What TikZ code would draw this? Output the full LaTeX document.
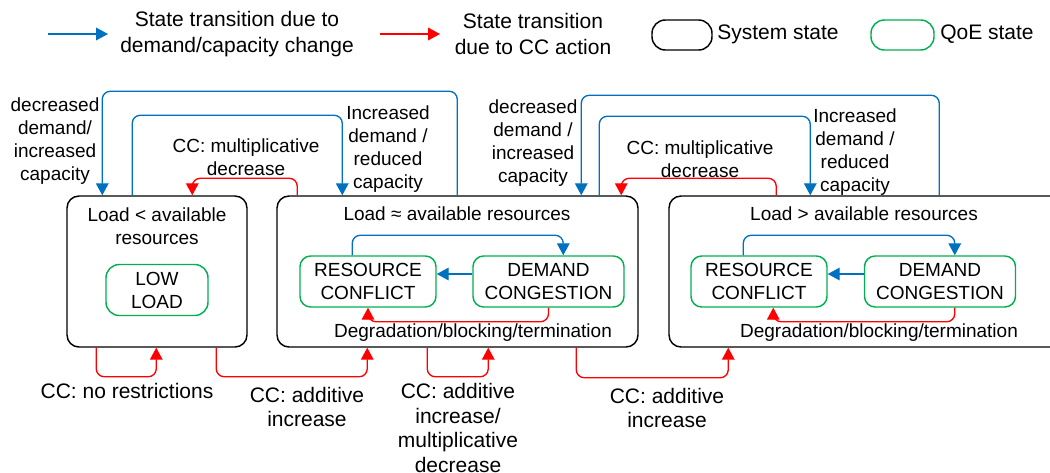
\documentclass[tikz,border=0pt]{standalone}
\usepackage{fontspec}
\setmainfont{Liberation Sans}
\usetikzlibrary{arrows.meta,calc}
\definecolor{cblue}{RGB}{0,112,192}
\definecolor{cred}{RGB}{255,0,0}
\definecolor{cgreen}{RGB}{0,176,80}
\newcommand\pxu{0.75pt}
\newcommand\fsA{\fontsize{14.25pt}{17.25pt}\selectfont}
\newcommand\fsB{\fontsize{15.75pt}{18.6pt}\selectfont}
\newcommand\fsL{\fontsize{15.75pt}{19.5pt}\selectfont}
\begin{document}
\begin{tikzpicture}[x=0.75pt,y=-0.75pt,
  sysbox/.style={draw=black, line width=1.1pt, rounded corners=9pt, inner sep=0pt},
  qoebox/.style={draw=cgreen, line width=1.1pt, rounded corners=8pt, align=center, font=\fsA, inner sep=0pt},
  lbl/.style={align=center, inner sep=0pt, font=\fsA},
  blbl/.style={align=center, inner sep=0pt, font=\fsB},
  leg/.style={align=center, inner sep=0pt, font=\fsL},
  tip/.style={-{Triangle[length=9pt,width=9.5pt]}},
  barr/.style={draw=cblue, line width=1pt, rounded corners=6pt, tip},
  rarr/.style={draw=cred, line width=1pt, rounded corners=6pt, tip}]
\clip (0,0) rectangle (1050,472);

% ---------- legend ----------
\coordinate (lb1) at (48,34);
\coordinate (lb2) at (108,34);
\draw[barr] (lb1) -- (lb2);
\node[leg] (lt1) at (237,34) {State transition due to\\demand/capacity change};
\coordinate (lr1) at (380,34);
\coordinate (lr2) at (440,34);
\draw[rarr] (lr1) -- (lr2);
\node[leg] (lt2) at (533,34) {State transition\\due to CC action};
\node[sysbox, rounded corners=10pt, minimum width=60*\pxu, minimum height=30*\pxu] (lsys) at (682,35) {};
\node[leg, anchor=west] (lsyst) at (717,34) {System state};
\node[qoebox, rounded corners=10pt, minimum width=63*\pxu, minimum height=30*\pxu] (lqoe) at (902.5,35) {};
\node[leg, anchor=west] (lqoet) at (940,34) {QoE state};

% ---------- system states ----------
\node[sysbox, minimum width=180*\pxu, minimum height=151*\pxu] (b1) at (157,271.5) {};
\node[sysbox, minimum width=361*\pxu, minimum height=151*\pxu] (b2) at (457.5,271.5) {};
\node[sysbox, minimum width=431*\pxu, minimum height=151*\pxu] (b3) at (884.5,271.5) {};

\node[lbl] (h1) at (157,226) {Load < available\\resources};
\node[lbl] (h2) at (457,214) {Load ≈ available resources};
\node[lbl] (h3) at (864,214) {Load > available resources};

% ---------- QoE states ----------
\node[qoebox, rounded corners=10pt, minimum width=102*\pxu, minimum height=51*\pxu] (low) at (157,290) {LOW\\LOAD};
\node[qoebox, minimum width=136*\pxu, minimum height=51*\pxu] (rc2) at (368,281.5) {RESOURCE\\CONFLICT};
\node[qoebox, minimum width=151*\pxu, minimum height=51*\pxu] (dc2) at (548.5,281.5) {DEMAND\\CONGESTION};
\node[qoebox, minimum width=136*\pxu, minimum height=51*\pxu] (rc3) at (759,281.5) {RESOURCE\\CONFLICT};
\node[qoebox, minimum width=151*\pxu, minimum height=51*\pxu] (dc3) at (940,281.5) {DEMAND\\CONGESTION};

\node[lbl] (dg2) at (473,333) {Degradation/blocking/termination};
\node[lbl] (dg3) at (879,333) {Degradation/blocking/termination};

% inner transitions
\draw[barr] ([xshift=53*\pxu]rc2.north west) -- ++(0,-20) -| ([xshift=91*\pxu]dc2.north west);
\draw[barr] ([yshift=7.5*\pxu]dc2.west) -- ([yshift=7.5*\pxu]rc2.east);
\draw[rarr] (dc2.south) -- ++(0,14) -| (rc2.south);
\draw[barr] ([xshift=53*\pxu]rc3.north west) -- ++(0,-20) -| ([xshift=91*\pxu]dc3.north west);
\draw[barr] ([yshift=7.5*\pxu]dc3.west) -- ([yshift=7.5*\pxu]rc3.east);
\draw[rarr] ([xshift=91*\pxu]dc3.south west) -- ++(0,14) -| ([xshift=83*\pxu]rc3.south west);

% ---------- top transitions ----------
\draw[barr] ([xshift=181*\pxu]b2.north west) -- ++(0,-104) -| ([xshift=36*\pxu]b1.north west);
\draw[barr] ([xshift=66*\pxu]b1.north west) -- ++(0,-80) -| ([xshift=66*\pxu]b2.north west);
\draw[rarr] ([xshift=21*\pxu]b2.north west) -- ++(0,-17) -| ([xshift=126*\pxu]b1.north west);
\draw[barr] ([xshift=271*\pxu]b3.north west) -- ++(0,-100) -| ([xshift=305*\pxu]b2.north west);
\draw[barr] ([xshift=323*\pxu]b2.north west) -- ++(0,-79) -| ([xshift=142*\pxu]b3.north west);
\draw[rarr] ([xshift=108*\pxu]b3.north west) -- ++(0,-17) -| ([xshift=345*\pxu]b2.north west);

\node[lbl] (t1) at (55,141) {decreased\\demand/\\increased\\capacity};
\node[lbl] (t2) at (246,157) {CC: multiplicative\\decrease};
\node[lbl] (t3) at (388,149) {Increased\\demand /\\reduced\\capacity};
\node[lbl] (t4) at (533,143) {decreased\\demand /\\increased\\capacity};
\node[lbl] (t5) at (700,159) {CC: multiplicative\\decrease};
\node[lbl] (t6) at (855,152) {Increased\\demand /\\reduced\\capacity};

% ---------- bottom transitions ----------
\draw[rarr] ([xshift=30*\pxu]b1.south west) -- ++(0,29) -| ([xshift=90*\pxu]b1.south west);
\draw[rarr] ([xshift=150*\pxu]b1.south west) -- ++(0,29) -| ([xshift=91*\pxu]b2.south west);
\draw[rarr] ([xshift=151*\pxu]b2.south west) -- ++(0,29) -| ([xshift=212*\pxu]b2.south west);
\draw[rarr] ([xshift=300*\pxu]b2.south west) -- ++(0,30) -| ([xshift=60*\pxu]b3.south west);

\node[blbl] (u1) at (127,391) {CC: no restrictions};
\node[blbl] (u2) at (307,407) {CC: additive\\increase};
\node[blbl] (u3) at (458,428) {CC: additive\\increase/\\multiplicative\\decrease};
\node[blbl] (u4) at (667,408) {CC: additive\\increase};
\end{tikzpicture}
\end{document}
